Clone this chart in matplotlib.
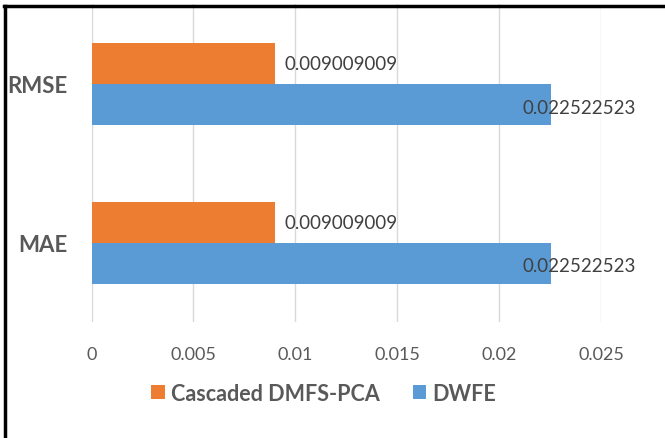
import matplotlib.pyplot as plt
from matplotlib.lines import Line2D
import numpy as np

plt.rcParams['font.family'] = ['Lato', 'DejaVu Sans']

categories = ['MAE', 'RMSE']
series_names = ['Cascaded DMFS-PCA', 'DWFE']
dmfs_pca = [0.009009009, 0.009009009]
dwfe = [0.022522523, 0.022522523]
xticks = [0, 0.005, 0.01, 0.015, 0.02, 0.025]
xtick_labels = ['0', '0.005', '0.01', '0.015', '0.02', '0.025']

orange = '#ED7D31'
blue = '#5B9BD5'
grey = '#595959'

fig = plt.figure(figsize=(6.65, 4.39), dpi=100)
ax = fig.add_axes([0.1376, 0.2642, 0.7662, 0.7233])

y = np.arange(len(categories))
h = 0.258
ax.barh(y + h / 2, dmfs_pca, height=h, color=orange, label=series_names[0], zorder=2)
ax.barh(y - h / 2, dwfe, height=h, color=blue, label=series_names[1], zorder=2)

# data labels
for yi, v in zip(y, dmfs_pca):
    ax.annotate(f'{v:.9f}', (v, yi + h / 2), xytext=(7, 0), textcoords='offset points',
                ha='left', va='center', fontsize=13.5, color='#404040')
for yi, v in zip(y, dwfe):
    ax.annotate(f'{v:.9f}', (v, yi - h / 2), xytext=(-20, -2), textcoords='offset points',
                ha='left', va='center', fontsize=13.5, color='#404040',
                annotation_clip=False, zorder=3)

ax.set_xlim(0, 0.025)
ax.set_ylim(-0.5, 1.5)
ax.set_xticks(xticks)
ax.set_xticklabels(xtick_labels)
ax.set_yticks(y)
ax.set_yticklabels(categories, fontweight='bold', fontsize=16)
ax.tick_params(axis='x', length=0, pad=17, labelsize=13, labelcolor=grey)
ax.tick_params(axis='y', length=0, pad=17, labelcolor=grey)
ax.grid(axis='x', color='#d9d9d9', linewidth=1, zorder=0)
for s in ax.spines.values():
    s.set_visible(False)

leg = fig.legend(loc='center', bbox_to_anchor=(0.487, 0.1025), ncol=2, frameon=False,
                 prop={'weight': 'bold', 'size': 15.5}, handlelength=0.65, handleheight=0.65,
                 handletextpad=0.28, columnspacing=1.5)
for t in leg.get_texts():
    t.set_color(grey)

# outer border (top and left only, the image is cropped)
fig.add_artist(Line2D([4 / 665, 1], [1 - 7 / 439, 1 - 7 / 439], color='black', lw=2.5))
fig.add_artist(Line2D([5 / 665, 5 / 665], [0, 1 - 7 / 439], color='black', lw=2.5))

fig.savefig('out.png', dpi=100)
